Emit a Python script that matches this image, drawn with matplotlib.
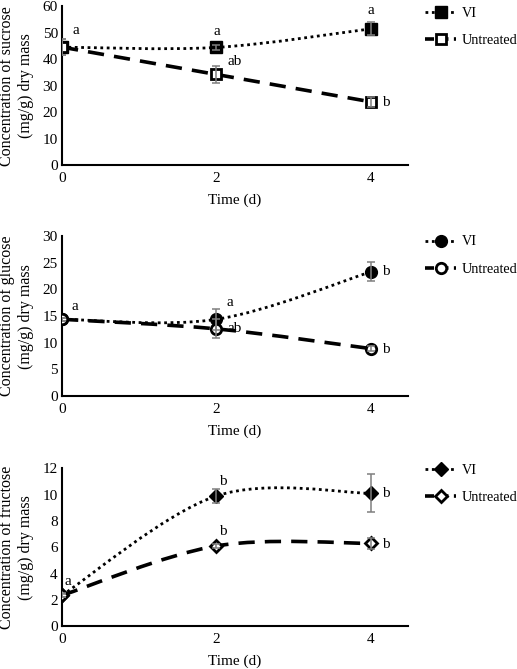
import numpy as np
import matplotlib as mpl
mpl.use('Agg')
import matplotlib.pyplot as plt
from matplotlib.path import Path
from matplotlib.patches import PathPatch
from matplotlib.lines import Line2D

plt.rcParams['font.family'] = ['Liberation Serif', 'DejaVu Serif']
plt.rcParams['font.size'] = 11

# data
days = [0, 2, 4]

sucrose_vi = [44.5, 44.4, 51.4]
sucrose_vi_err = [3.0, 1.0, 2.5]
sucrose_un = [44.5, 34.2, 23.9]
sucrose_un_err = [3.0, 3.3, 2.0]
sucrose_vi_letters = ['a', 'a', 'a']
sucrose_un_letters = ['', 'ab', 'b']

glucose_vi = [14.4, 14.4, 23.3]
glucose_vi_err = [0.3, 2.0, 1.8]
glucose_un = [14.4, 12.6, 8.9]
glucose_un_err = [0.3, 1.8, 0.4]
glucose_vi_letters = ['a', 'a', 'b']
glucose_un_letters = ['', 'ab', 'b']

fructose_vi = [2.35, 9.9, 10.1]
fructose_vi_err = [0.15, 0.55, 1.45]
fructose_un = [2.35, 6.1, 6.3]
fructose_un_err = [0.1, 0.15, 0.4]
fructose_vi_letters = ['a', 'b', 'b']
fructose_un_letters = ['', 'b', 'b']

ERR_COLOR = '#7f7f7f'
DOT = (0, (1.0, 1.3))
DASH = (0, (4.5, 2.8))


def smooth_path(x, y):
    # Excel-like smoothed line: cubic bezier segments (Catmull-Rom style control points)
    pts = np.column_stack([x, y]).astype(float)
    ext = np.vstack([pts[0], pts, pts[-1]])
    verts = [pts[0]]
    codes = [Path.MOVETO]
    for i in range(1, len(ext) - 2):
        p0, p1, p2, p3 = ext[i - 1], ext[i], ext[i + 1], ext[i + 2]
        c1 = p1 + (p2 - p0) / 6
        c2 = p2 - (p3 - p1) / 6
        verts += [c1, c2, p2]
        codes += [Path.CURVE4] * 3
    return Path(verts, codes)


def draw_panel(ax, vi, vi_err, un, un_err, marker, ms, ylim, yticks, ylabel,
               vi_lbl, un_lbl, vi_off, un_off, legend_y):
    ax.add_patch(PathPatch(smooth_path(days, vi), fill=False, ec='black', lw=2.0,
                           ls=DOT, capstyle='butt', zorder=2))
    ax.add_patch(PathPatch(smooth_path(days, un), fill=False, ec='black', lw=2.6,
                           ls=DASH, zorder=2))
    ax.errorbar(days, vi, yerr=vi_err, fmt='none', ecolor=ERR_COLOR, elinewidth=1.1,
                capsize=3, capthick=1.1, zorder=4)
    ax.errorbar(days, un, yerr=un_err, fmt='none', ecolor=ERR_COLOR, elinewidth=1.1,
                capsize=3, capthick=1.1, zorder=4)
    ax.plot(days, vi, ls='none', marker=marker, ms=ms, mfc='black', mec='black', zorder=3)
    ax.plot(days, un, ls='none', marker=marker, ms=ms - 1, mfc='white', mec='black',
            mew=2, zorder=3)

    for x, y, t, off in zip(days, vi, vi_lbl, vi_off):
        if t:
            ax.annotate(t, (x, y), xytext=off, textcoords='offset pixels',
                        ha='center', va='center', fontsize=11)
    for x, y, t, off in zip(days, un, un_lbl, un_off):
        if t:
            ax.annotate(t, (x, y), xytext=off, textcoords='offset pixels',
                        ha='center', va='center', fontsize=11)

    ax.set_xlim(0, 4.48)
    ax.set_ylim(*ylim)
    ax.set_xticks(days)
    ax.set_yticks(yticks)
    ax.tick_params(length=0, labelsize=11)
    ax.tick_params(axis='y', pad=3)
    ax.tick_params(axis='x', pad=5)
    ax.spines['top'].set_visible(False)
    ax.spines['right'].set_visible(False)
    ax.spines['left'].set_linewidth(1.5)
    ax.spines['bottom'].set_linewidth(1.5)
    ax.set_xlabel('Time (d)', labelpad=6, fontsize=11)
    ax.set_ylabel(ylabel, labelpad=6, linespacing=1.3, fontsize=11.5)

    handles = [
        Line2D([], [], color='black', lw=2.0, ls=DOT,
               marker=marker, ms=ms, mfc='black', mec='black'),
        Line2D([], [], color='black', lw=2.6, ls=(0, (2.5, 1.5)),
               marker=marker, ms=ms - 1, mfc='white', mec='black', mew=2),
    ]
    fig.legend(handles, ['VI', 'Untreated'], loc='upper left', frameon=False,
               bbox_to_anchor=(0.822, legend_y), numpoints=1, handlelength=2.2,
               handletextpad=0.4, labelspacing=1.0, borderpad=0, borderaxespad=0,
               fontsize=10.2)


fig = plt.figure(figsize=(5.17, 6.69), dpi=100)
ax1 = fig.add_axes([0.120, 0.753, 0.669, 0.238])
ax2 = fig.add_axes([0.120, 0.408, 0.669, 0.239])
ax3 = fig.add_axes([0.120, 0.064, 0.669, 0.236])

draw_panel(ax1, sucrose_vi, sucrose_vi_err, sucrose_un, sucrose_un_err, 's', 8,
           (0, 60), range(0, 61, 10), 'Concentration of sucrose\n(mg/g) dry mass',
           sucrose_vi_letters, sucrose_un_letters,
           [(14, 17), (0, 16), (0, 18)], [(0, 0), (18, 13), (15, -1)], 0.990)
draw_panel(ax2, glucose_vi, glucose_vi_err, glucose_un, glucose_un_err, 'o', 8.5,
           (0, 30), range(0, 31, 5), 'Concentration of glucose\n(mg/g) dry mass',
           glucose_vi_letters, glucose_un_letters,
           [(13, 13), (13, 17), (15, 0)], [(0, 0), (18, 0), (15, -1)], 0.648)
draw_panel(ax3, fructose_vi, fructose_vi_err, fructose_un, fructose_un_err, 'D', 7,
           (0, 12), range(0, 13, 2), 'Concentration of fructose\n(mg/g) dry mass',
           fructose_vi_letters, fructose_un_letters,
           [(6, 14), (6, 14), (15, 0)], [(0, 0), (6, 14), (15, -1)], 0.307)

fig.savefig('out.png', dpi=100)
